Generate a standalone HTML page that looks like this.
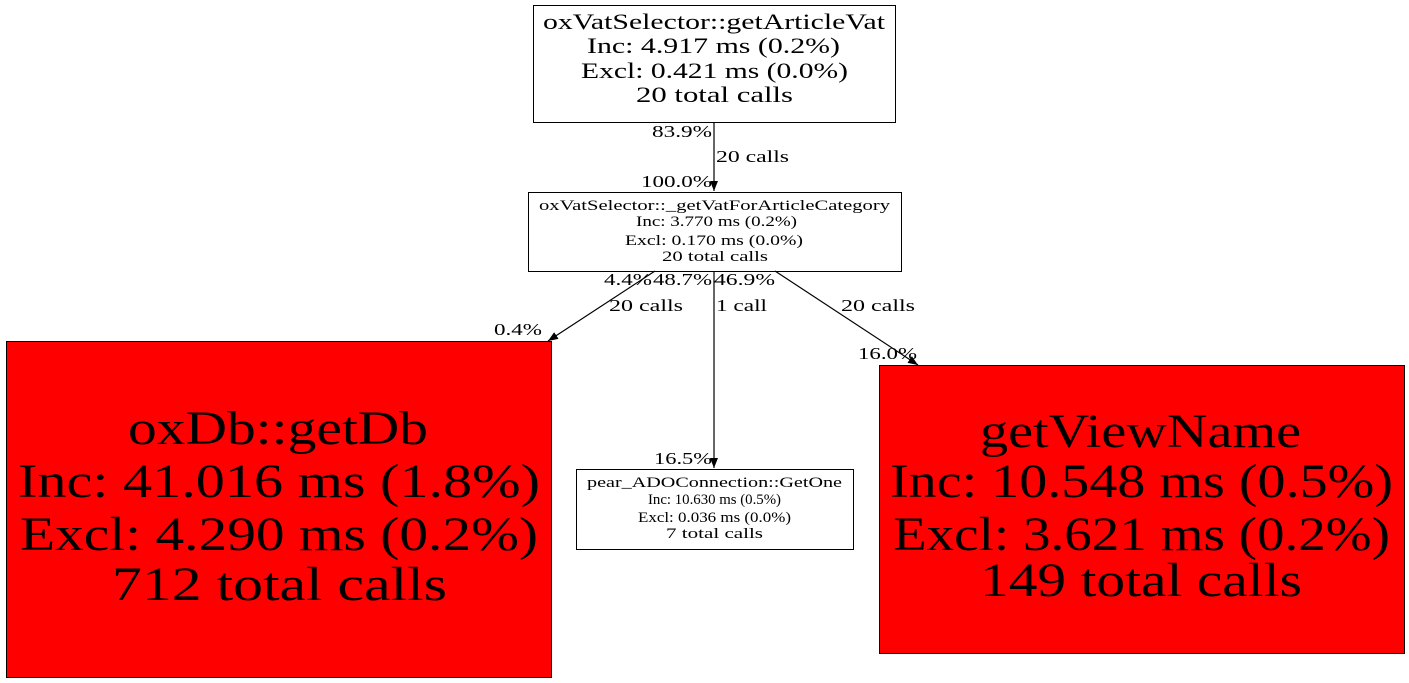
<!DOCTYPE html>
<html><head><meta charset="utf-8"><style>
html,body{margin:0;padding:0;background:#fff;width:1409px;height:683px;overflow:hidden}
text{font-family:"Liberation Serif","DejaVu Serif",serif;fill:#000}
</style></head><body>
<svg width="1409" height="683" viewBox="0 0 1409 683" xmlns="http://www.w3.org/2000/svg">
<defs><marker id="a" markerWidth="10" markerHeight="8" refX="10" refY="4" orient="auto" markerUnits="userSpaceOnUse"><path d="M0,0 L10,4 L0,8 z" fill="#000"/></marker></defs>
<rect x="533.5" y="5.5" width="362" height="117" fill="#fff" stroke="#000"/>
<g font-size="22" lengthAdjust="spacingAndGlyphs">
<text x="543" y="29" textLength="342" lengthAdjust="spacingAndGlyphs">oxVatSelector::getArticleVat</text>
<text x="587" y="53" textLength="253" lengthAdjust="spacingAndGlyphs">Inc: 4.917 ms (0.2%)</text>
<text x="581" y="78" textLength="267" lengthAdjust="spacingAndGlyphs">Excl: 0.421 ms (0.0%)</text>
<text x="636" y="102" textLength="157" lengthAdjust="spacingAndGlyphs">20 total calls</text>
</g>
<rect x="528.5" y="192.5" width="373" height="79" fill="#fff" stroke="#000"/>
<g font-size="14.5">
<text x="539" y="210" textLength="351" lengthAdjust="spacingAndGlyphs">oxVatSelector::_getVatForArticleCategory</text>
<text x="636" y="226" textLength="161" lengthAdjust="spacingAndGlyphs">Inc: 3.770 ms (0.2%)</text>
<text x="625" y="245" textLength="178" lengthAdjust="spacingAndGlyphs">Excl: 0.170 ms (0.0%)</text>
<text x="662" y="261" textLength="106" lengthAdjust="spacingAndGlyphs">20 total calls</text>
</g>
<rect x="6.5" y="341.5" width="545" height="336" fill="#f00" stroke="#000"/>
<g font-size="48">
<text x="128" y="444" textLength="300" lengthAdjust="spacingAndGlyphs">oxDb::getDb</text>
<text x="18" y="497" textLength="522" lengthAdjust="spacingAndGlyphs">Inc: 41.016 ms (1.8%)</text>
<text x="20" y="550" textLength="518" lengthAdjust="spacingAndGlyphs">Excl: 4.290 ms (0.2%)</text>
<text x="112" y="600" textLength="335" lengthAdjust="spacingAndGlyphs">712 total calls</text>
</g>
<rect x="576.5" y="469.5" width="277" height="80" fill="#fff" stroke="#000"/>
<g font-size="14.5">
<text x="587" y="487" textLength="255" lengthAdjust="spacingAndGlyphs">pear_ADOConnection::GetOne</text>
<text x="648" y="504" textLength="133" lengthAdjust="spacingAndGlyphs">Inc: 10.630 ms (0.5%)</text>
<text x="638" y="522" textLength="153" lengthAdjust="spacingAndGlyphs">Excl: 0.036 ms (0.0%)</text>
<text x="666" y="538" textLength="97" lengthAdjust="spacingAndGlyphs">7 total calls</text>
</g>
<rect x="879.5" y="365.5" width="525" height="288" fill="#f00" stroke="#000"/>
<g font-size="48">
<text x="980" y="447" textLength="321" lengthAdjust="spacingAndGlyphs">getViewName</text>
<text x="890" y="497" textLength="503" lengthAdjust="spacingAndGlyphs">Inc: 10.548 ms (0.5%)</text>
<text x="893" y="550" textLength="497" lengthAdjust="spacingAndGlyphs">Excl: 3.621 ms (0.2%)</text>
<text x="980" y="596" textLength="322" lengthAdjust="spacingAndGlyphs">149 total calls</text>
</g>
<g stroke="#000" stroke-width="1.2" fill="none">
<line x1="714" y1="122" x2="714" y2="191" marker-end="url(#a)"/>
<line x1="655" y1="271" x2="548" y2="341" marker-end="url(#a)"/>
<line x1="714" y1="271" x2="714" y2="468" marker-end="url(#a)"/>
<line x1="775" y1="271" x2="918" y2="365" marker-end="url(#a)"/>
</g>
<g font-size="17">
<text x="652" y="137" textLength="60" lengthAdjust="spacingAndGlyphs">83.9%</text>
<text x="716" y="162" textLength="73" lengthAdjust="spacingAndGlyphs">20 calls</text>
<text x="641" y="187" textLength="71" lengthAdjust="spacingAndGlyphs">100.0%</text>
<text x="604" y="285" textLength="48" lengthAdjust="spacingAndGlyphs">4.4%</text>
<text x="653" y="285" textLength="59" lengthAdjust="spacingAndGlyphs">48.7%</text>
<text x="714" y="285" textLength="61" lengthAdjust="spacingAndGlyphs">46.9%</text>
<text x="609" y="311" textLength="74" lengthAdjust="spacingAndGlyphs">20 calls</text>
<text x="716" y="311" textLength="51" lengthAdjust="spacingAndGlyphs">1 call</text>
<text x="841" y="311" textLength="74" lengthAdjust="spacingAndGlyphs">20 calls</text>
<text x="494" y="335" textLength="48" lengthAdjust="spacingAndGlyphs">0.4%</text>
<text x="654" y="464" textLength="58" lengthAdjust="spacingAndGlyphs">16.5%</text>
<text x="858" y="359" textLength="59" lengthAdjust="spacingAndGlyphs">16.0%</text>
</g>
</svg>
</body></html>
